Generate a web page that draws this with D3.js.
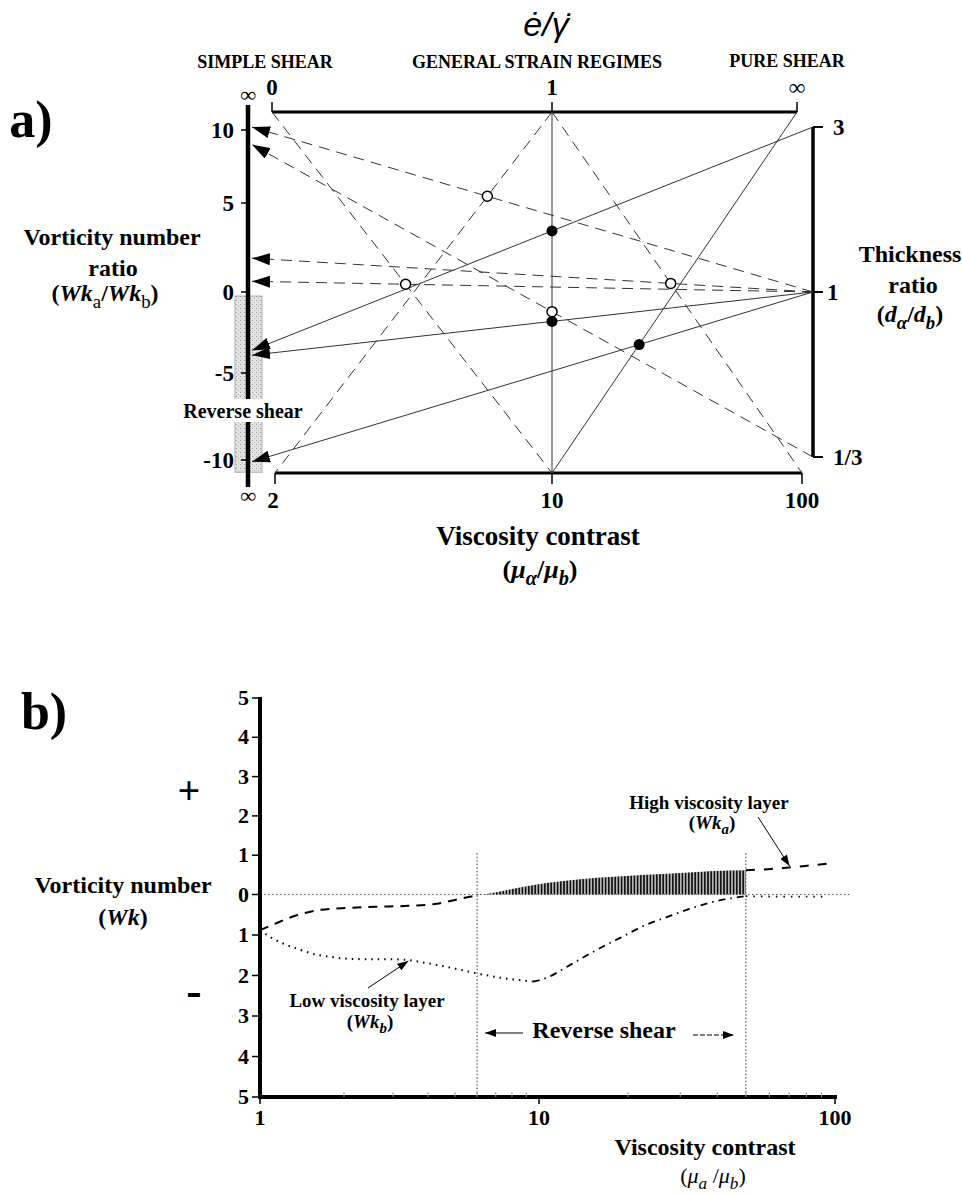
<!DOCTYPE html>
<html lang="en">
<head>
<meta charset="UTF-8">
<title>Vorticity number ratio nomogram</title>
<script src="https://cdn.jsdelivr.net/npm/d3@7"></script>
<style>
  body {margin: 0; background: #fff;}
  svg {font-family: "Liberation Serif", "Times New Roman", serif; display: block;}
  .b {font-weight: bold;}
  .guide {fill: none; stroke: #333; stroke-width: 1;}
  .dash {stroke-dasharray: 11 7;}
  .axis {stroke: #000; fill: none;}
</style>
</head>
<body>
<svg id="chart" width="962" height="1196"></svg>
<script>
// ---------- panel a data
var viscTicks = [2, 10, 100];
var strainTicks = ["0", "1", "\u221e"];
var ratioTicks = [10, 5, 0, -5, -10];
var thickTicks = [3, 1, 1 / 3];
var thickTickLabels = ["3", "1", "1/3"];

// guides between strain axis (top) and viscosity axis (bottom)
var guideLines = [
  {id: "g1", from: "0", to: 10, dash: true},
  {id: "g2", from: "1", to: 2, dash: true},
  {id: "g3", from: "1", to: 100, dash: true},
  {id: "g4", from: "1", to: 10, dash: false},
  {id: "g5", from: "\u221e", to: 10, dash: false}
];
// thickness ratio (right) -> vorticity number ratio (left, arrow)
var arrowLines = [
  {id: "a1", thick: 1, wk: 10.2, dash: true},
  {id: "a2", thick: 1 / 3, wk: 9.0, dash: true},
  {id: "a3", thick: 1, wk: 1.9, dash: true},
  {id: "a4", thick: 1, wk: 0.6, dash: true},
  {id: "a5", thick: 3, wk: -3.6, dash: false},
  {id: "a6", thick: 1, wk: -3.9, dash: false},
  {id: "a7", thick: 1, wk: -10.1, dash: false}
];
// dots sit where two lines cross
var openDots = [["g1", "a4"], ["g2", "a1"], ["g3", "a3"], ["g4", "a2"]];
var solidDots = [["g4", "a5"], ["g4", "a6"], ["g5", "a7"]];
var reverseBand = [0, -10.7];

// ---------- panel b data
var muTicks = [1, 10, 100];
var wkTicks = [5, 4, 3, 2, 1, 0, -1, -2, -3, -4, -5];
var reverseZone = [6, 50];
var wkaMu  = [1, 1.1, 1.33, 1.64, 2.07, 2.65, 3.4, 4.3, 5.1, 6, 6.8, 8, 10.6, 13.8, 17.8, 23, 30, 39, 50, 61, 73, 85, 100];
var wkaVal = [-0.88, -0.76, -0.53, -0.38, -0.33, -0.3, -0.28, -0.23, -0.12, -0.02, 0.04, 0.14, 0.29, 0.39, 0.45, 0.5, 0.55, 0.6, 0.62, 0.65, 0.7, 0.75, 0.8];
var wkbMu  = [1, 1.1, 1.25, 1.4, 1.6, 1.8, 2, 2.5, 3, 3.4, 4, 5, 6, 7.4, 9.5, 10.6, 12.4, 15.2, 18.8, 23, 27, 33, 41, 50, 60, 75, 94];
var wkbVal = [-0.88, -1.07, -1.25, -1.37, -1.49, -1.54, -1.58, -1.6, -1.6, -1.62, -1.7, -1.83, -1.95, -2.06, -2.15, -2.06, -1.79, -1.42, -1.07, -0.75, -0.56, -0.33, -0.14, -0.04, -0.05, -0.05, -0.05];

var svg = d3.select("#chart");
var defs = svg.append("defs");

function marker(id, len, half) {
  defs.append("marker").attr("id", id)
    .attr("markerUnits", "userSpaceOnUse")
    .attr("viewBox", "0 " + (-half) + " " + len + " " + (2 * half))
    .attr("markerWidth", len).attr("markerHeight", 2 * half)
    .attr("refX", len).attr("refY", 0).attr("orient", "auto")
    .append("path").attr("d", "M0," + (-half) + "L" + len + ",0L0," + half + "Z").attr("fill", "#000");
}
marker("arrBig", 18, 6);
marker("arrSmall", 11, 4);

var stip = defs.append("pattern").attr("id", "stip").attr("patternUnits", "userSpaceOnUse")
  .attr("width", 4).attr("height", 4);
stip.append("rect").attr("width", 4).attr("height", 4).attr("fill", "#e4e4e4");
stip.append("rect").attr("width", 1).attr("height", 1).attr("fill", "#9a9a9a");
stip.append("rect").attr("x", 2).attr("y", 2).attr("width", 1).attr("height", 1).attr("fill", "#b0b0b0");

var bars = defs.append("pattern").attr("id", "bars").attr("patternUnits", "userSpaceOnUse")
  .attr("width", 3.2).attr("height", 10);
bars.append("rect").attr("width", 3.2).attr("height", 10).attr("fill", "#b5b5b5");
bars.append("rect").attr("width", 1.6).attr("height", 10).attr("fill", "#111");

function rich(x, y, size, parts, weight) {
  var t = svg.append("text").attr("x", x).attr("y", y).attr("text-anchor", "middle")
    .attr("font-size", size).attr("font-weight", weight || "bold");
  var shift = 0;
  parts.forEach(function(p) {
    var s = t.append("tspan").text(p.t);
    var want = p.sub ? size * 0.28 : 0;
    if (want !== shift) { s.attr("dy", want - shift); shift = want; }
    if (p.sub) s.attr("font-size", size * 0.78);
    if (p.it) s.attr("font-style", "italic");
    if (p.w) s.attr("font-weight", p.w);
  });
  return t;
}
function label(x, y, size, str, anchor) {
  return svg.append("text").attr("x", x).attr("y", y).attr("font-size", size)
    .attr("class", "b").attr("text-anchor", anchor || "middle").text(str);
}

// =============== panel a ===============
var Y_TOP = 112, Y_BOT = 473, X_LEFT = 248, X_RIGHT = 813;
var xa = d3.scaleLog().domain(viscTicks).range([275, 552, 802]);
var xTop = d3.scaleOrdinal().domain(strainTicks).range([272, 552, 797]);
var ya = d3.scaleLinear().domain(ratioTicks).range([130, 203, 292, 373, 460]);
var yr = d3.scaleLog().domain([1 / 3, 3]).range([457, 127]);

var lineById = {};
guideLines.forEach(function(d) {
  d.p = [[xTop(d.from), Y_TOP], [xa(d.to), Y_BOT]];
  lineById[d.id] = d;
});
arrowLines.forEach(function(d) {
  d.p = [[X_RIGHT, yr(d.thick)], [X_LEFT + 4, ya(d.wk)]];
  lineById[d.id] = d;
});
function cross(pair) {
  var A = lineById[pair[0]].p, B = lineById[pair[1]].p;
  var x1 = A[0][0], y1 = A[0][1], x2 = A[1][0], y2 = A[1][1];
  var x3 = B[0][0], y3 = B[0][1], x4 = B[1][0], y4 = B[1][1];
  var den = (x1 - x2) * (y3 - y4) - (y1 - y2) * (x3 - x4);
  var a = x1 * y2 - y1 * x2, b = x3 * y4 - y3 * x4;
  return [(a * (x3 - x4) - (x1 - x2) * b) / den, (a * (y3 - y4) - (y1 - y2) * b) / den];
}

// reverse shear band
svg.append("rect").attr("x", X_LEFT - 13).attr("width", 27)
  .attr("y", ya(reverseBand[0]) + 4).attr("height", ya(reverseBand[1]) - ya(reverseBand[0]) - 4)
  .attr("fill", "url(#stip)").attr("stroke", "#999").attr("stroke-width", 0.8);

// left axis
svg.append("line").attr("class", "axis").attr("x1", X_LEFT).attr("x2", X_LEFT)
  .attr("y1", 105).attr("y2", 487).attr("stroke-width", 4.5);
svg.selectAll(".lt").data(ratioTicks).enter().append("line")
  .attr("class", "axis").attr("x1", X_LEFT - 7).attr("x2", X_LEFT)
  .attr("y1", function(d) { return ya(d); }).attr("y2", function(d) { return ya(d); })
  .attr("stroke-width", 1.5);
svg.selectAll(".ll").data(ratioTicks).enter().append("text")
  .attr("class", "b").attr("font-size", 23).attr("text-anchor", "end")
  .attr("x", X_LEFT - 14).attr("y", function(d) { return ya(d) + 8; })
  .text(function(d) { return d; });
label(X_LEFT, 102, 22, "\u221e").attr("font-weight", "normal");
label(X_LEFT, 503, 22, "\u221e").attr("font-weight", "normal");

// top axis
svg.append("line").attr("class", "axis").attr("x1", xTop("0")).attr("x2", xTop("\u221e"))
  .attr("y1", Y_TOP).attr("y2", Y_TOP).attr("stroke-width", 3);
svg.selectAll(".tt").data(strainTicks).enter().append("line").attr("class", "axis")
  .attr("x1", function(d) { return xTop(d); }).attr("x2", function(d) { return xTop(d); })
  .attr("y1", Y_TOP - 10).attr("y2", Y_TOP).attr("stroke-width", 1.5);
svg.selectAll(".tl").data(strainTicks).enter().append("text")
  .attr("class", "b").attr("font-size", 23).attr("text-anchor", "middle")
  .attr("x", function(d) { return xTop(d); }).attr("y", 95)
  .attr("font-weight", function(d) { return d === "\u221e" ? "normal" : "bold"; })
  .text(function(d) { return d; });

// bottom axis
svg.append("line").attr("class", "axis").attr("x1", xa(2)).attr("x2", xa(100))
  .attr("y1", Y_BOT).attr("y2", Y_BOT).attr("stroke-width", 3);
svg.selectAll(".bt").data(viscTicks).enter().append("line").attr("class", "axis")
  .attr("x1", function(d) { return xa(d); }).attr("x2", function(d) { return xa(d); })
  .attr("y1", Y_BOT).attr("y2", Y_BOT + 11).attr("stroke-width", 1.5);
svg.selectAll(".bl").data(viscTicks).enter().append("text")
  .attr("class", "b").attr("font-size", 23).attr("text-anchor", "middle")
  .attr("x", function(d) { return xa(d) - (d === 2 ? 2 : 0); }).attr("y", 508)
  .text(function(d) { return d; });

// right axis
svg.append("line").attr("class", "axis").attr("x1", X_RIGHT).attr("x2", X_RIGHT)
  .attr("y1", yr(3)).attr("y2", yr(1 / 3)).attr("stroke-width", 3.5);
svg.selectAll(".rt").data(thickTicks).enter().append("line").attr("class", "axis")
  .attr("x1", function(d) { return d === 1 ? X_RIGHT - 8 : X_RIGHT; }).attr("x2", X_RIGHT + 10)
  .attr("y1", function(d) { return yr(d); }).attr("y2", function(d) { return yr(d); })
  .attr("stroke-width", 2);
svg.selectAll(".rl").data(thickTicks).enter().append("text")
  .attr("class", "b").attr("font-size", 23)
  .attr("x", function(d, i) { return X_RIGHT + (i === 1 ? 14 : 20); })
  .attr("y", function(d) { return yr(d) + 8; })
  .text(function(d, i) { return thickTickLabels[i]; });

// nomogram lines
svg.selectAll(".gl").data(guideLines.concat(arrowLines)).enter().append("line")
  .attr("class", function(d) { return d.dash ? "guide dash" : "guide"; })
  .attr("x1", function(d) { return d.p[0][0]; }).attr("y1", function(d) { return d.p[0][1]; })
  .attr("x2", function(d) { return d.p[1][0]; }).attr("y2", function(d) { return d.p[1][1]; })
  .attr("marker-end", function(d) { return d.wk !== undefined ? "url(#arrBig)" : null; });

svg.selectAll(".od").data(openDots.map(cross)).enter().append("circle")
  .attr("cx", function(d) { return d[0]; }).attr("cy", function(d) { return d[1]; })
  .attr("r", 5).attr("fill", "#fff").attr("stroke", "#000").attr("stroke-width", 1.5);
svg.selectAll(".sd").data(solidDots.map(cross)).enter().append("circle")
  .attr("cx", function(d) { return d[0]; }).attr("cy", function(d) { return d[1]; })
  .attr("r", 5.5).attr("fill", "#000");

// "Reverse shear" tag over the band
svg.append("rect").attr("x", 183).attr("y", 399).attr("width", 120).attr("height", 23).attr("fill", "#fff");
label(243, 418, 20, "Reverse shear");

// titles panel a
label(31, 137, 52, "a)");
label(265, 68, 18, "SIMPLE SHEAR");
label(537, 68, 18, "GENERAL STRAIN REGIMES");
label(787, 67, 18, "PURE SHEAR");
svg.append("text").attr("x", 546).attr("y", 36).attr("text-anchor", "middle")
  .attr("font-family", "'Liberation Sans', Arial, sans-serif").attr("font-style", "italic")
  .attr("font-size", 34).text("\u0117/\u03b3\u0307");

label(112, 245, 24, "Vorticity number");
label(113, 276, 24, "ratio");
rich(105, 301, 24, [{t: "("}, {t: "Wk", it: true}, {t: "a", sub: true, w: "normal"}, {t: "/"},
  {t: "Wk", it: true}, {t: "b", sub: true, w: "normal"}, {t: ")"}]);

label(910, 262, 24, "Thickness");
label(913, 293, 24, "ratio");
rich(910, 322, 24, [{t: "("}, {t: "d", it: true}, {t: "\u03b1", sub: true, it: true}, {t: "/"},
  {t: "d", it: true}, {t: "b", sub: true, it: true}, {t: ")"}]);

label(538, 545, 27, "Viscosity contrast");
rich(540, 578, 26, [{t: "("}, {t: "\u03bc", it: true}, {t: "\u03b1", sub: true, it: true}, {t: "/"},
  {t: "\u03bc", it: true}, {t: "b", sub: true, it: true}, {t: ")"}]);

// =============== panel b ===============
var xb = d3.scaleLog().domain(muTicks).range([260, 539, 835]);
var yb = d3.scaleLinear().domain([-5, 0, 5]).range([1097, 894.5, 698]);
var wka = wkaMu.map(function(m, i) { return [m, wkaVal[i]]; });
var wkb = wkbMu.map(function(m, i) { return [m, wkbVal[i]]; });
var lo = reverseZone[0], hi = reverseZone[1];

var line = d3.line().x(function(d) { return xb(d[0]); }).y(function(d) { return yb(d[1]); })
  .curve(d3.curveMonotoneX);
var area = d3.area().x(function(d) { return xb(d[0]); }).y0(yb(0)).y1(function(d) { return yb(d[1]); })
  .curve(d3.curveMonotoneX);

// reference lines
svg.append("line").attr("x1", xb(1)).attr("x2", 850).attr("y1", yb(0)).attr("y2", yb(0))
  .attr("stroke", "#555").attr("stroke-dasharray", "1.5 2.5");
svg.selectAll(".vz").data(reverseZone).enter().append("line")
  .attr("x1", function(d) { return xb(d); }).attr("x2", function(d) { return xb(d); })
  .attr("y1", yb(1.05)).attr("y2", yb(-5))
  .attr("stroke", "#333").attr("stroke-dasharray", "1.5 2");

// Wka inside the reverse shear zone: hatched bars
svg.append("path").datum(wka.filter(function(d) { return d[0] >= lo && d[0] <= hi; }))
  .attr("d", area).attr("fill", "url(#bars)");
svg.append("path").datum(wka.filter(function(d) { return d[0] <= lo; }))
  .attr("d", line).attr("fill", "none").attr("stroke", "#000").attr("stroke-width", 2)
  .attr("stroke-dasharray", "9 7");
svg.append("path").datum(wka.filter(function(d) { return d[0] >= hi; }))
  .attr("d", line).attr("fill", "none").attr("stroke", "#000").attr("stroke-width", 2)
  .attr("stroke-dasharray", "9 9");

// Wkb
svg.append("path").datum(wkb.filter(function(d) { return d[0] <= 9.5; }))
  .attr("d", line).attr("fill", "none").attr("stroke", "#000").attr("stroke-width", 2)
  .attr("stroke-dasharray", "1.5 5");
svg.append("path").datum(wkb.filter(function(d) { return d[0] >= 9.5 && d[0] <= hi; }))
  .attr("d", line).attr("fill", "none").attr("stroke", "#000").attr("stroke-width", 1.8)
  .attr("stroke-dasharray", "7 5 1.5 5");
svg.append("path").datum(wkb.filter(function(d) { return d[0] >= hi; }))
  .attr("d", line).attr("fill", "none").attr("stroke", "#000").attr("stroke-width", 1.8)
  .attr("stroke-dasharray", "1.5 6");

// axes b
svg.append("line").attr("class", "axis").attr("x1", xb(1)).attr("x2", xb(1))
  .attr("y1", yb(5) - 1).attr("y2", yb(-5) + 2).attr("stroke-width", 4);
svg.selectAll(".wt").data(wkTicks).enter().append("line").attr("class", "axis")
  .attr("x1", xb(1) - 8).attr("x2", xb(1))
  .attr("y1", function(d) { return yb(d); }).attr("y2", function(d) { return yb(d); })
  .attr("stroke-width", 1.5);
svg.selectAll(".wl").data(wkTicks).enter().append("text")
  .attr("class", "b").attr("font-size", 22).attr("text-anchor", "end")
  .attr("x", xb(1) - 11).attr("y", function(d) { return yb(d) + 7; })
  .text(function(d) { return Math.abs(d); });

svg.append("line").attr("class", "axis").attr("x1", xb(1) - 2).attr("x2", xb(100) + 2)
  .attr("y1", yb(-5)).attr("y2", yb(-5)).attr("stroke-width", 4);
var minor = d3.range(2, 10).concat(d3.range(20, 100, 10));
svg.selectAll(".mt").data(minor).enter().append("line")
  .attr("x1", function(d) { return xb(d); }).attr("x2", function(d) { return xb(d); })
  .attr("y1", yb(-5) - 5).attr("y2", yb(-5)).attr("stroke", "#999").attr("stroke-width", 1);
svg.selectAll(".mut").data(muTicks).enter().append("line").attr("class", "axis")
  .attr("x1", function(d) { return xb(d); }).attr("x2", function(d) { return xb(d); })
  .attr("y1", yb(-5)).attr("y2", yb(-5) + 7).attr("stroke-width", 1.5);
svg.selectAll(".mul").data(muTicks).enter().append("text")
  .attr("class", "b").attr("font-size", 22).attr("text-anchor", "middle")
  .attr("x", function(d) { return xb(d); }).attr("y", 1125)
  .text(function(d) { return d; });

// labels b
label(44, 729, 52, "b)");
label(189, 804, 40, "+");
label(194, 1006, 46, "-");
label(123, 893, 24, "Vorticity number");
rich(123, 925, 24, [{t: "("}, {t: "Wk", it: true}, {t: ")"}]);

label(709, 809, 19, "High viscosity layer");
rich(712, 829, 19, [{t: "("}, {t: "Wk", it: true}, {t: "a", sub: true, it: true}, {t: ")"}]);
var hiPt = wka[wkaMu.indexOf(73)];
svg.append("line").attr("x1", 758).attr("y1", 817).attr("x2", xb(hiPt[0]) - 5).attr("y2", yb(hiPt[1]) - 1)
  .attr("stroke", "#000").attr("marker-end", "url(#arrSmall)");

label(367, 1007, 19, "Low viscosity layer");
rich(370, 1028, 19, [{t: "("}, {t: "Wk", it: true}, {t: "b", sub: true, it: true}, {t: ")"}]);
var loPt = wkb[wkbMu.indexOf(3.4)];
svg.append("line").attr("x1", 368).attr("y1", 988).attr("x2", xb(loPt[0])).attr("y2", yb(loPt[1]) + 1)
  .attr("stroke", "#000").attr("marker-end", "url(#arrSmall)");

label(604, 1038, 24, "Reverse shear");
svg.append("line").attr("x1", 523).attr("x2", xb(lo) + 8).attr("y1", 1033).attr("y2", 1033)
  .attr("stroke", "#000").attr("stroke-width", 1.2).attr("marker-end", "url(#arrSmall)");
svg.append("line").attr("x1", 693).attr("x2", xb(hi) - 12).attr("y1", 1035).attr("y2", 1035)
  .attr("stroke", "#000").attr("stroke-width", 1.2).attr("stroke-dasharray", "5 2")
  .attr("marker-end", "url(#arrSmall)");

label(705, 1155, 24, "Viscosity contrast");
rich(713, 1183, 22, [{t: "("}, {t: "\u03bc", it: true}, {t: "a", sub: true, it: true}, {t: " /"},
  {t: "\u03bc", it: true}, {t: "b", sub: true, it: true}, {t: ")"}], "normal");
</script>
</body>
</html>
